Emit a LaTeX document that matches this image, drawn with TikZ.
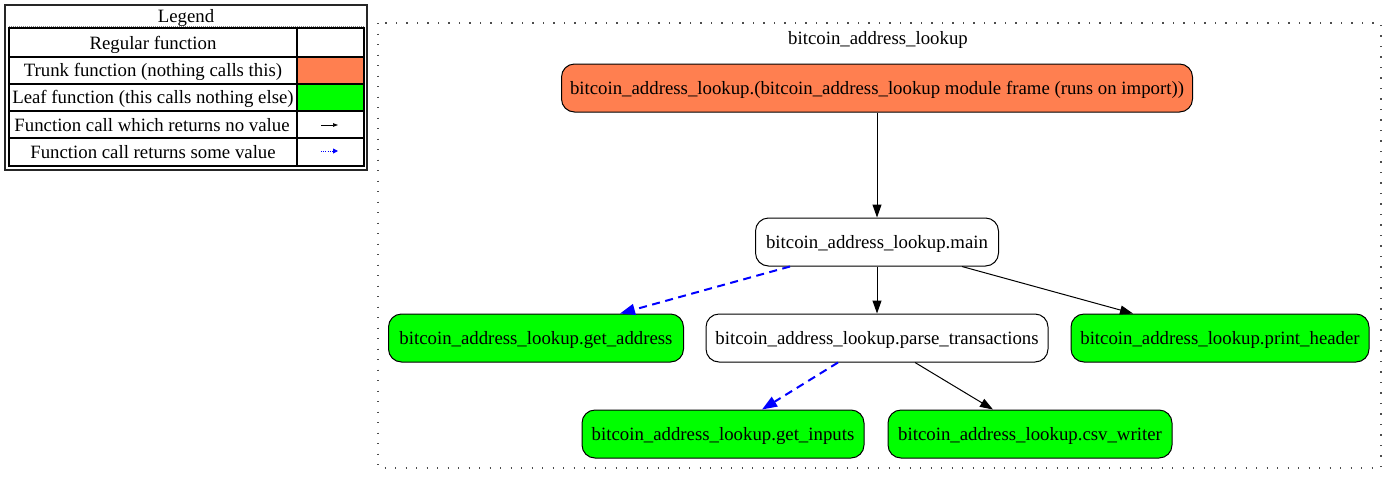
\documentclass[tikz,border=0pt]{standalone}
\usepackage{fontspec}
\setmainfont{Liberation Serif}
\usetikzlibrary{arrows.meta}
\definecolor{trunk}{HTML}{FF7F50}
\definecolor{leaf}{HTML}{00FF00}
\definecolor{callblue}{HTML}{0000FF}
\tikzset{
  fn/.style={draw=black, line width=1pt, rounded corners=13pt, minimum height=48pt, inner xsep=8pt, text height=16pt, text depth=4pt, font=\fontsize{18.8}{21}\selectfont},
  trunkfn/.style={fn, fill=trunk},
  leaffn/.style={fn, fill=leaf},
  regfn/.style={fn, fill=white},
  callnv/.style={draw=black, line width=1pt, -{Triangle[length=13pt,width=9pt]}},
  callrv/.style={draw=callblue, line width=2pt, dash pattern=on 8pt off 5.5pt, -{Triangle[length=15pt,width=11pt]}},
  legtext/.style={font=\fontsize{18.8}{21}\selectfont, inner sep=0pt},
  cluster/.style={draw=black!70, line width=1.3pt, dash pattern=on 1.3pt off 9.2pt},
}
\begin{document}
\begin{tikzpicture}[x=1pt,y=-1pt]
\useasboundingbox (0,0) rectangle (1397,485);
% Legend
\draw[line width=2pt, draw=black!85] (5,5) rectangle (367,170);
\node[legtext] (legt) at (186,18) {Legend};
\fill[leaf] (297,84) rectangle (363,110);
\fill[trunk] (297,57) rectangle (363,83);
\draw[line width=2pt] (9,28) rectangle (364,166);
\draw[black!50, line width=0.8pt, dash pattern=on 1pt off 1pt] (9,26.5) -- (364,26.5);
\foreach \y in {57,84,111,138} \draw[line width=1.6pt] (9,\y) -- (364,\y);
\draw[line width=1.6pt] (297,28) -- (297,166);
\node[legtext] (l1) at (153,44.5) {Regular function};
\node[legtext] (l2) at (153,71.5) {Trunk function (nothing calls this)};
\node[legtext] (l3) at (153,98.5) {Leaf function (this calls nothing else)};
\node[legtext] (l4) at (152,125.5) {Function call which returns no value};
\node[legtext] (l5) at (153,152.5) {Function call returns some value};
\coordinate (a1s) at (321,125); \coordinate (a1e) at (338,125);
\coordinate (a2s) at (321,151); \coordinate (a2e) at (338,151);
\draw[line width=0.7pt, -{Triangle[length=5pt,width=3.5pt]}] (a1s) -- (a1e);
\draw[callblue, line width=0.9pt, dash pattern=on 1pt off 1.2pt, -{Triangle[length=5pt,width=5pt]}] (a2s) -- (a2e);
% Cluster
\draw[cluster] (378,23) rectangle (1381,468);
\node[font=\fontsize{18.8}{21}\selectfont] (clab) at (878,40) {bitcoin\_address\_lookup};
% Nodes
\node[trunkfn, minimum width=631pt] (top) at (877,88) {bitcoin\_address\_lookup.(bitcoin\_address\_lookup module frame (runs on import))};
\node[regfn, minimum width=243pt] (main) at (877,242) {bitcoin\_address\_lookup.main};
\node[leaffn, minimum width=295pt] (getaddr) at (536,338) {bitcoin\_address\_lookup.get\_address};
\node[regfn, minimum width=342pt] (parse) at (877,338) {bitcoin\_address\_lookup.parse\_transactions};
\node[leaffn, minimum width=298pt] (printh) at (1220,338) {bitcoin\_address\_lookup.print\_header};
\node[leaffn, minimum width=282pt] (getin) at (723,434) {bitcoin\_address\_lookup.get\_inputs};
\node[leaffn, minimum width=284pt] (csvw) at (1030,434) {bitcoin\_address\_lookup.csv\_writer};
% Edges
\draw[callnv] (top.south) -- (main.north);
\draw[callrv] ([xshift=-87pt]main.south) -- ([xshift=84pt]getaddr.north);
\draw[callnv] (main.south) -- (parse.north);
\draw[callnv] ([xshift=85pt]main.south) -- ([xshift=-87pt]printh.north);
\draw[callrv] ([xshift=-39pt]parse.south) -- ([xshift=39pt]getin.north);
\draw[callnv] ([xshift=38pt]parse.south) -- ([xshift=-37pt]csvw.north);
\end{tikzpicture}
\end{document}
